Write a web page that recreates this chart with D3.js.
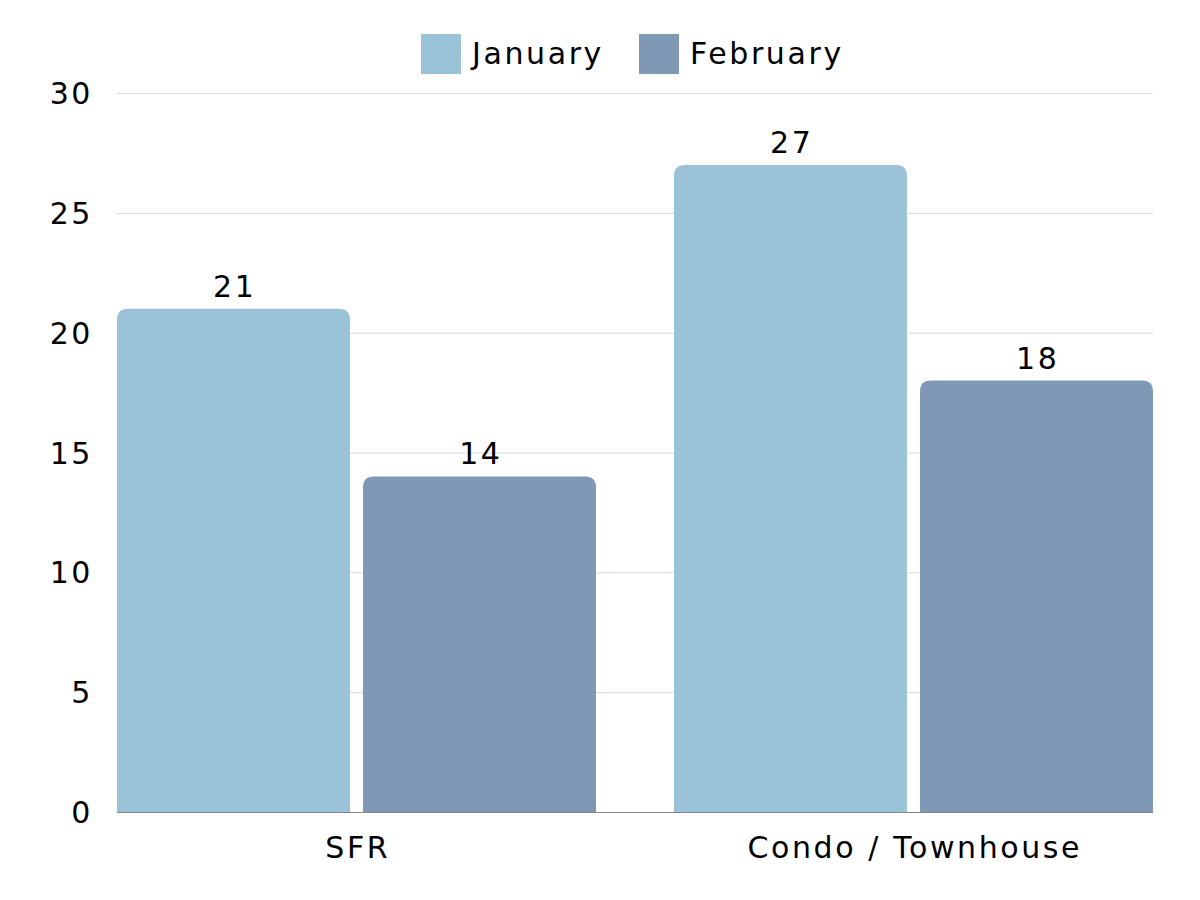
<!DOCTYPE html>
<html><head><meta charset="utf-8">
<script src="https://cdn.jsdelivr.net/npm/d3@7"></script>
<style>body{margin:0;background:#fff;} text{font-family:"DejaVu Sans",sans-serif;fill:#000;letter-spacing:2.6px;}</style>
</head><body><svg id="c" width="1200" height="900"></svg>
<script>
const categories = ["SFR", "Condo / Townhouse"];
const seriesNames = ["January", "February"];
const january = [21, 27];
const february = [14, 18];
const yTicks = [0, 5, 10, 15, 20, 25, 30];
const colors = ["#9bc3d8", "#7f98b5"];

(function () {
const svg = d3.select("#c");
const mLeft = 117, mRight = 1153, mTop = 93, mBottom = 812;
const fs = 30;
const ff = "DejaVu Sans";

const y = d3.scaleLinear().domain([0, 30]).range([mBottom, mTop]);
const x0 = d3.scaleBand().domain(categories).range([mLeft, mRight]).paddingInner(0.14).paddingOuter(0);
const x1 = d3.scaleBand().domain(seriesNames).range([0, x0.bandwidth()]).paddingInner(0.053).paddingOuter(0);

// gridlines
svg.append("g").selectAll("line").data(yTicks.filter(d => d > 0)).join("line")
  .attr("x1", mLeft).attr("x2", mRight).attr("y1", d => y(d) + 0.5).attr("y2", d => y(d) + 0.5)
  .attr("stroke", "#d9d9d9").attr("stroke-width", 1);

// y axis labels
const yAxis = d3.axisLeft(y).tickValues(yTicks).tickSize(0).tickPadding(0);
const ya = svg.append("g").attr("transform", `translate(93,0)`).call(yAxis);
ya.select(".domain").remove();
ya.selectAll("text").attr("font-size", fs).attr("font-family", ff).attr("fill", "#000").attr("dy", "0.35em");

const data = categories.map((c, i) => ({cat: c, vals: [january[i], february[i]]}));
const r = 11;
function roundedTop(x, yTop, w, h) {
  const rr = Math.min(r, h, w / 2);
  return `M${x},${yTop + h}V${yTop + rr}Q${x},${yTop} ${x + rr},${yTop}H${x + w - rr}Q${x + w},${yTop} ${x + w},${yTop + rr}V${yTop + h}Z`;
}
const groups = svg.append("g").selectAll("g").data(data).join("g")
  .attr("transform", d => `translate(${x0(d.cat)},0)`);
groups.selectAll("path").data(d => d.vals.map((v, j) => ({s: seriesNames[j], v, j}))).join("path")
  .attr("d", d => roundedTop(x1(d.s), y(d.v), x1.bandwidth(), y(0) - y(d.v)))
  .attr("fill", d => colors[d.j]);
groups.selectAll("text").data(d => d.vals.map((v, j) => ({s: seriesNames[j], v, j}))).join("text")
  .attr("x", d => x1(d.s) + x1.bandwidth() / 2 + 1.3).attr("y", d => y(d.v) - 12)
  .attr("text-anchor", "middle").attr("font-size", fs).text(d => d.v);

// baseline
svg.append("line").attr("x1", mLeft).attr("x2", mRight).attr("y1", mBottom + 0.5).attr("y2", mBottom + 0.5)
  .attr("stroke", "#888").attr("stroke-width", 1);

// x axis
const xAxis = d3.axisBottom(x0).tickSize(0).tickPadding(0);
const xa = svg.append("g").attr("transform", `translate(1.3,${mBottom})`).call(xAxis);
xa.select(".domain").remove();
xa.selectAll("text").attr("font-size", fs).attr("font-family", ff).attr("fill", "#000").attr("dy", 0).attr("y", 46);

// legend
const legendX = [421, 639];
const lg = svg.append("g").selectAll("g").data(seriesNames).join("g")
  .attr("transform", (d, i) => `translate(${legendX[i]},34)`);
lg.append("rect").attr("width", 40).attr("height", 40).attr("fill", (d, i) => colors[i]);
lg.append("text").attr("x", 51).attr("y", 19).attr("dy", "0.35em").attr("font-size", fs).attr("font-family", ff).text(d => d);
})();
</script></body></html>
